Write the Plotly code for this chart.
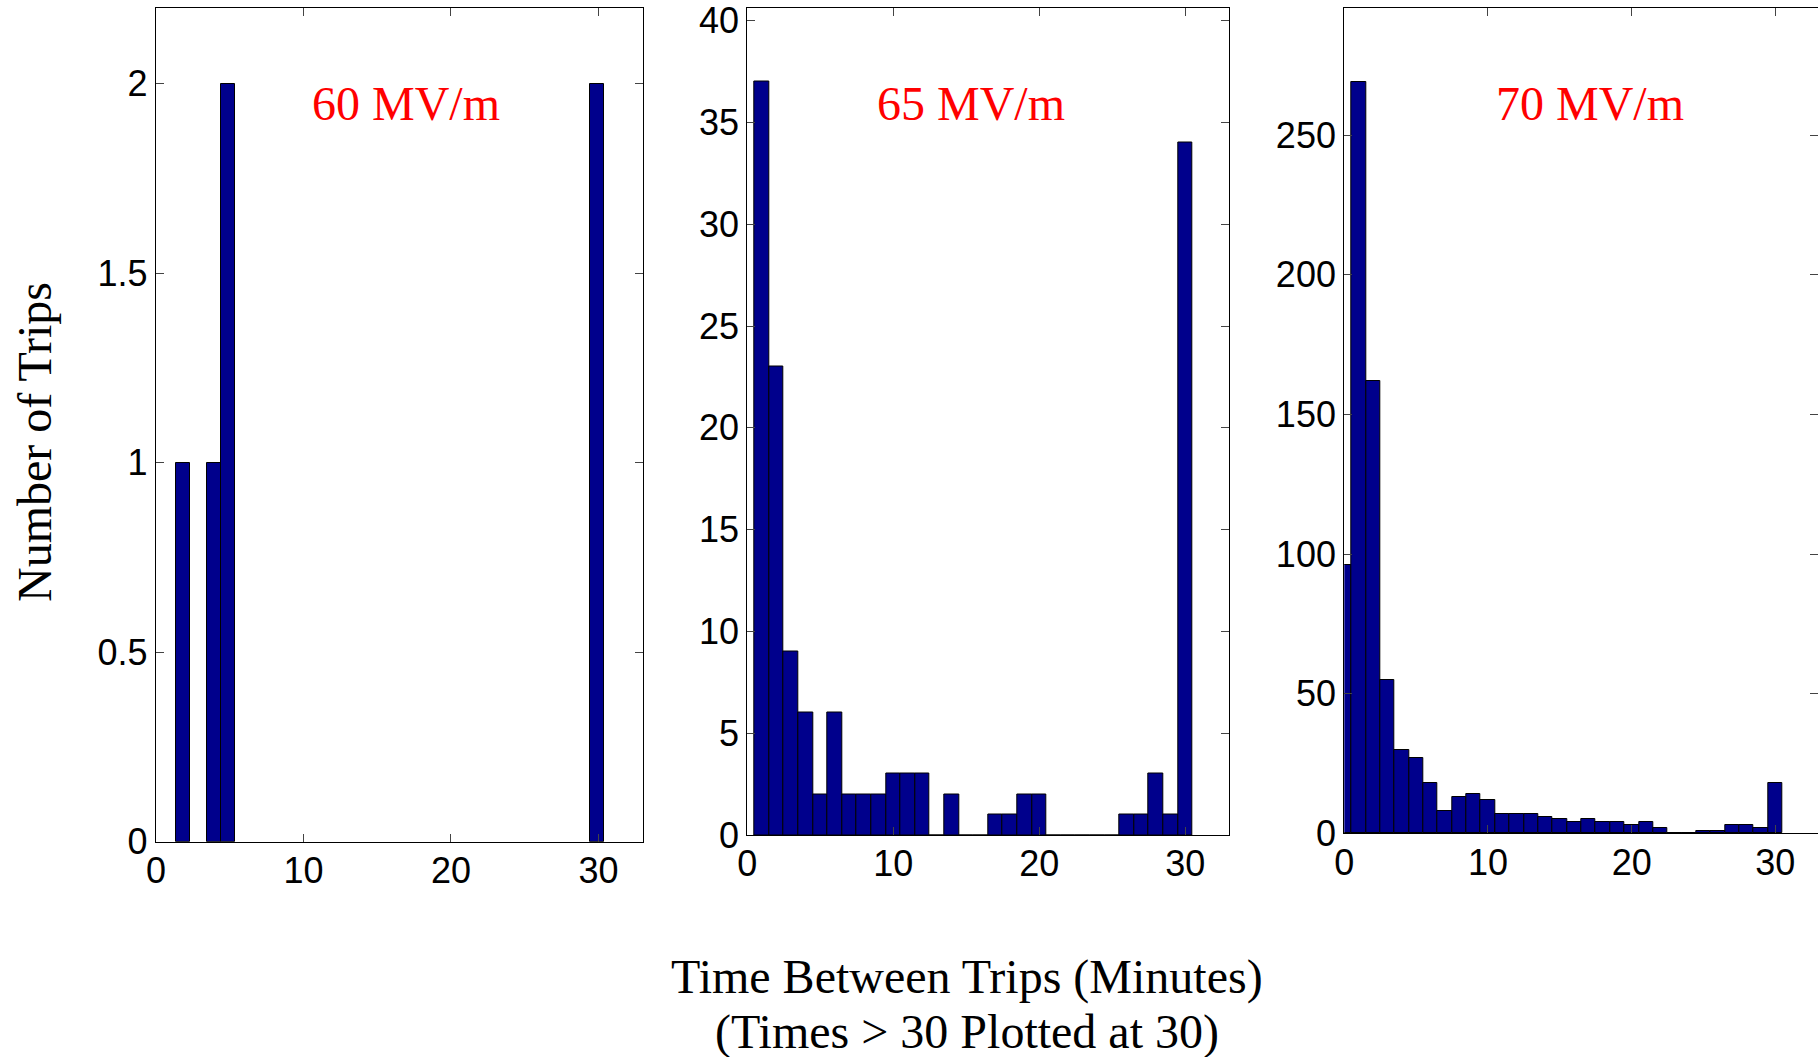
import plotly.graph_objects as go

W, H = 1818, 1057

# Histogram of time between trips (minutes); times > 30 are counted at 30.
# 60 MV/m
t60 = [1.85, 3.93, 4.90, 29.9]
n60 = [1, 1, 2, 2]

# 65 MV/m, bins centred on whole minutes 1..30
t65 = list(range(1, 31))
n65 = [37, 23, 9, 6, 2, 6, 2, 2, 2, 3,
       3, 3, 0, 2, 0, 0, 1, 1, 2, 2,
       0, 0, 0, 0, 0, 1, 1, 3, 1, 34]

# 70 MV/m, bins centred on whole minutes 0..30
t70 = list(range(0, 31))
n70 = [96, 269, 162, 55, 30, 27, 18, 8, 13, 14,
       12, 7, 7, 7, 6, 5, 4, 5, 4, 4,
       3, 4, 2, 0, 0, 1, 1, 3, 3, 2,
       18]

panel_titles = ["60 MV/m", "65 MV/m", "70 MV/m"]
x_ticks = [0, 10, 20, 30]
y_ticks60 = [0, 0.5, 1, 1.5, 2]
y_ticks65 = [0, 5, 10, 15, 20, 25, 30, 35, 40]
y_ticks70 = [0, 50, 100, 150, 200, 250]

BAR_FILL = "rgb(0,0,140)"
SANS = "Liberation Sans, Arial, sans-serif"
SERIF = "Liberation Serif, Times New Roman, serif"
TICK_FONT = dict(family=SANS, size=36, color="black")

fig = go.Figure()

def add_hist(x, y, xa, ya, width):
    fig.add_trace(go.Bar(
        x=x, y=y, width=width, xaxis=xa, yaxis=ya,
        marker=dict(color=BAR_FILL, line=dict(color="black", width=1)),
        showlegend=False, hoverinfo="x+y",
    ))

add_hist(t60, n60, "x", "y", 0.97)
add_hist(t65, n65, "x2", "y2", 1.0)
add_hist(t70, n70, "x3", "y3", 1.0)
# empty trace so the right-hand tick axis of the last panel is drawn
fig.add_trace(go.Scatter(x=[], y=[], xaxis="x3", yaxis="y4", showlegend=False))

def px_x(p):
    return p / W

def px_y(p):
    return 1 - p / H

axis_common = dict(
    showgrid=False, zeroline=False, showline=True, linecolor="black", linewidth=1.3,
    ticks="inside", ticklen=8, tickwidth=1, tickcolor="#444",
    tickfont=TICK_FONT,
)
x_common = dict(tickvals=x_ticks, mirror="ticks", ticklabelstandoff=-3, **axis_common)
y_common = dict(ticklabelstandoff=0, **axis_common)

fig.update_layout(
    width=W, height=H, autosize=False,
    margin=dict(l=0, r=0, t=0, b=0, autoexpand=False),
    paper_bgcolor="white", plot_bgcolor="white",
    bargap=0,
    xaxis=dict(domain=[px_x(156), px_x(642.7)], range=[0, 33], anchor="y", **x_common),
    yaxis=dict(domain=[px_y(841.7), px_y(8)], range=[0, 2.2], anchor="x",
               tickvals=y_ticks60, ticktext=[f"{v:g}" for v in y_ticks60],
               mirror="ticks", **y_common),
    xaxis2=dict(domain=[px_x(747.3), px_x(1229)], range=[0, 33], anchor="y2", **x_common),
    yaxis2=dict(domain=[px_y(835), px_y(7.5)], range=[0, 40.65], anchor="x2",
                tickvals=y_ticks65, mirror="ticks", **y_common),
    xaxis3=dict(domain=[px_x(1344.3), 1.0], range=[0, 32.97], anchor="y3", **x_common),
    yaxis3=dict(domain=[px_y(833.3), px_y(8)], range=[0, 295.5], anchor="x3",
                tickvals=y_ticks70, mirror=False, **y_common),
    # tick marks along the right edge of the last panel, without a frame line
    yaxis4=dict(overlaying="y3", anchor="x3", side="right", range=[0, 295.5],
                tickvals=y_ticks70, showticklabels=False, showgrid=False,
                zeroline=False, showline=False, ticks="inside", ticklen=8,
                tickwidth=1, tickcolor="#444"),
)

# panel labels
for txt, cx, cy in zip(panel_titles, [405.5, 971, 1590], [104, 103, 104]):
    fig.add_annotation(text=txt, xref="paper", yref="paper",
                       x=px_x(cx), y=px_y(cy), xanchor="center", yanchor="middle",
                       showarrow=False, font=dict(family=SERIF, size=48, color="red"))

# axis titles
fig.add_annotation(text="Number of Trips", xref="paper", yref="paper",
                   x=px_x(34), y=px_y(442), xanchor="center", yanchor="middle",
                   textangle=-90, showarrow=False,
                   font=dict(family=SERIF, size=48, color="black"))
fig.add_annotation(text="Time Between Trips (Minutes)", xref="paper", yref="paper",
                   x=px_x(967), y=px_y(977), xanchor="center", yanchor="middle",
                   showarrow=False, font=dict(family=SERIF, size=48, color="black"))
fig.add_annotation(text="(Times &gt; 30 Plotted at 30)", xref="paper", yref="paper",
                   x=px_x(967), y=px_y(1032), xanchor="center", yanchor="middle",
                   showarrow=False, font=dict(family=SERIF, size=48, color="black"))

# the figure fills the whole page: drop the default body margin
page_js = ("document.body.style.margin='0';"
           "document.documentElement.style.overflow='hidden';"
           "document.body.style.overflow='hidden';")

fig.write_html("out.html", post_script=page_js,
               config={"responsive": False, "displayModeBar": False})
